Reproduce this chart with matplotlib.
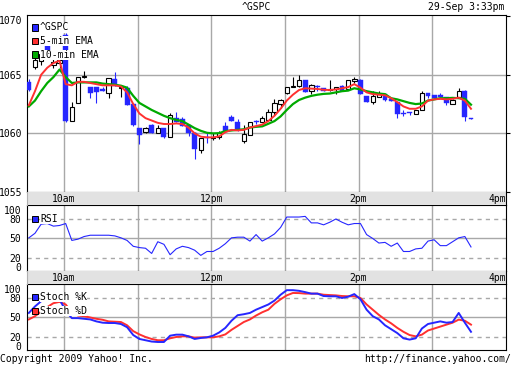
import numpy as np
import matplotlib
matplotlib.use('Agg')
import matplotlib.pyplot as plt
from matplotlib.patches import Rectangle

# 5-minute bars starting 9:30 (index 0)
opens = [1064.35, 1065.67, 1066.2, 1067.6, 1065.8, 1066.0, 1068.4, 1061.07, 1062.6, 1064.8,
         1064.0, 1064.0, 1063.8, 1063.43, 1064.63, 1063.85, 1063.9, 1062.47, 1060.5, 1060.14,
         1060.7, 1060.0, 1060.42, 1059.72, 1061.35, 1061.2, 1060.7, 1060.0, 1058.6, 1059.7,
         1059.6, 1059.72, 1060.62, 1061.4, 1060.93, 1059.38, 1059.9, 1061.05, 1061.0, 1061.18,
         1061.83, 1062.53, 1063.43, 1063.95, 1064.07, 1064.55, 1063.6, 1064.07, 1063.88, 1063.7,
         1063.8, 1064.07, 1063.79, 1064.44, 1064.55, 1063.23, 1062.67, 1063.09, 1063.37, 1062.9,
         1062.67, 1061.72, 1061.75, 1061.69, 1062.0, 1063.43, 1063.3, 1063.3, 1063.09, 1062.53,
         1063.09, 1063.65, 1061.3]
highs = [1064.6, 1066.46, 1067.0, 1067.9, 1066.4, 1066.5, 1068.6, 1062.7, 1064.85, 1065.3,
         1064.0, 1064.0, 1064.0, 1064.7, 1065.25, 1064.07, 1064.07, 1062.5, 1060.5, 1060.55,
         1060.8, 1060.7, 1060.42, 1061.7, 1061.83, 1061.4, 1060.7, 1060.1, 1059.6, 1060.05,
         1060.0, 1060.2, 1061.0, 1061.55, 1061.26, 1060.7, 1061.0, 1061.1, 1061.5, 1062.1,
         1062.95, 1062.9, 1064.0, 1064.83, 1065.0, 1064.55, 1064.2, 1064.1, 1063.9, 1064.55,
         1064.0, 1064.1, 1064.55, 1064.83, 1064.6, 1063.23, 1063.6, 1063.65, 1063.4, 1062.9,
         1062.7, 1061.97, 1061.83, 1062.0, 1063.65, 1063.43, 1063.3, 1063.43, 1063.1, 1062.9,
         1063.88, 1063.7, 1061.3]
lows = [1063.65, 1065.48, 1065.8, 1066.6, 1065.6, 1065.6, 1061.0, 1061.07, 1062.58, 1064.7,
        1063.0, 1062.6, 1063.6, 1063.0, 1064.07, 1063.1, 1062.4, 1060.6, 1059.1, 1060.03,
        1060.0, 1060.0, 1059.58, 1059.72, 1060.98, 1060.6, 1059.8, 1057.8, 1058.3, 1059.15,
        1059.44, 1059.5, 1060.2, 1061.07, 1060.2, 1059.2, 1059.9, 1060.8, 1061.0, 1061.1,
        1061.6, 1062.2, 1063.4, 1063.95, 1064.0, 1063.5, 1063.4, 1063.6, 1063.6, 1063.6,
        1063.37, 1063.6, 1063.79, 1064.3, 1063.37, 1062.67, 1062.53, 1063.09, 1062.8, 1062.8,
        1061.35, 1061.46, 1061.55, 1061.69, 1062.0, 1063.0, 1063.0, 1063.1, 1062.4, 1062.5,
        1063.0, 1061.07, 1061.2]
closes = [1063.7, 1066.24, 1066.8, 1067.0, 1066.1, 1066.3, 1061.05, 1062.25, 1064.8, 1064.85,
          1063.43, 1063.5, 1063.6, 1064.7, 1064.07, 1063.95, 1062.4, 1060.7, 1059.86, 1060.5,
          1060.0, 1060.42, 1059.72, 1061.55, 1060.98, 1060.6, 1060.0, 1058.65, 1059.58, 1059.6,
          1059.7, 1060.05, 1060.2, 1061.07, 1060.28, 1059.94, 1060.98, 1060.95, 1061.28, 1061.83,
          1062.58, 1062.87, 1063.99, 1064.07, 1064.55, 1063.5, 1064.16, 1063.95, 1063.65, 1063.75,
          1063.93, 1063.6, 1064.55, 1064.63, 1063.37, 1062.67, 1063.23, 1063.37, 1062.81, 1062.8,
          1061.69, 1061.66, 1061.7, 1062.0, 1063.43, 1063.23, 1063.0, 1063.1, 1062.58, 1062.87,
          1063.65, 1061.4, 1061.2]
ema5 = [1062.4, 1063.6, 1065.0, 1065.6, 1066.0, 1066.2, 1064.2, 1064.1, 1064.4, 1064.4,
        1064.3, 1064.2, 1064.1, 1064.1, 1064.1, 1064.0, 1063.5, 1062.5, 1061.7, 1061.3,
        1061.1, 1060.9, 1060.8, 1060.8, 1060.85, 1060.8, 1060.5, 1060.0, 1059.72, 1059.66,
        1059.66, 1059.75, 1060.1, 1060.3, 1060.25, 1060.3, 1060.5, 1060.62, 1060.75, 1061.05,
        1061.5, 1062.1, 1062.8, 1063.3, 1063.7, 1063.85, 1063.82, 1063.79, 1063.72, 1063.7,
        1063.75, 1063.85, 1063.95, 1064.2, 1063.9, 1063.5, 1063.35, 1063.3, 1063.25, 1063.0,
        1062.67, 1062.3, 1062.1, 1062.1, 1062.3, 1062.8, 1062.9, 1062.95, 1062.9, 1062.95,
        1063.05, 1062.8, 1062.1]
ema10 = [1062.3, 1062.8, 1063.6, 1064.3, 1064.8, 1065.45, 1064.8, 1064.3, 1064.35, 1064.35,
         1064.35, 1064.35, 1064.25, 1064.2, 1064.15, 1064.07, 1063.9, 1063.2, 1062.6, 1062.3,
         1062.0, 1061.75, 1061.5, 1061.3, 1061.15, 1061.05, 1060.75, 1060.45, 1060.22, 1060.05,
         1060.0, 1060.02, 1060.2, 1060.25, 1060.3, 1060.35, 1060.5, 1060.56, 1060.6, 1060.82,
         1061.05, 1061.45, 1062.0, 1062.5, 1062.85, 1063.05, 1063.2, 1063.3, 1063.37, 1063.4,
         1063.5, 1063.6, 1063.65, 1063.85, 1063.75, 1063.6, 1063.5, 1063.4, 1063.35, 1063.0,
         1062.9, 1062.75, 1062.6, 1062.5, 1062.55, 1062.8, 1062.9, 1063.0, 1063.0, 1063.03,
         1063.0, 1062.95, 1062.45]
rsi = [51, 58, 72, 73, 69, 70, 73, 47, 49, 53, 55, 55, 55, 55, 54, 51, 47, 38, 36, 35,
       27, 45, 41, 25, 34, 38, 36, 32, 24, 30, 30, 35, 42, 51, 52, 52, 46, 56, 46, 51,
       57, 67, 83, 83, 83, 84, 74, 74, 71, 75, 80, 75, 71, 73, 73, 56, 50, 43, 44, 38,
       43, 30, 30, 34, 35, 46, 48, 39, 39, 45, 51, 53, 37]
stoch_k = [57, 67, 75, 78, 80, 78, 60, 49, 49, 48, 47, 44, 42, 41.5, 41.5, 40, 35, 23, 17, 15,
           13, 12.3, 12.3, 22, 23.6, 23.6, 21, 17, 18.5, 19.5, 22, 27, 34, 45, 53.5, 55, 57, 62, 66, 70,
           76, 85, 92, 92, 91, 89, 86.7, 86.7, 83, 82.6, 82.6, 80, 82, 86, 78, 62, 52, 47, 38, 32,
           26, 18, 16, 18, 33, 40, 42, 44, 42, 43, 57, 42, 28]
stoch_d = [47, 52, 59, 66, 72, 74, 70, 58, 53, 52, 50, 48, 46.5, 44, 43.5, 43, 38, 29, 24, 20,
           17, 15, 15, 18, 20, 21, 21, 19, 19.5, 19.5, 19.5, 21, 24, 31, 37, 43, 47, 53, 58, 62,
           71, 78, 84, 87.7, 87.5, 86.7, 86.7, 86.7, 85, 84.5, 84, 83, 82.6, 82.6, 80, 70, 62, 54, 47, 41,
           34, 28, 23, 21, 23.6, 30, 33, 36, 39, 42, 46.7, 45, 39]

hour_marks = [30, 90, 150, 210, 270, 330, 390]   # minutes after 9:30
time_labels = ['10am', '12pm', '2pm', '4pm']
time_label_pos = [30, 150, 270, 390]

W, H = 512, 365
BLUE = '#2626ff'
RED = '#ff3030'
GREEN = '#00aa00'
GRID = '#a8a8a8'
FONT = 'DejaVu Sans Mono'
FS = 7.0

plt.rcParams['font.family'] = FONT

fig = plt.figure(figsize=(W / 100, H / 100), dpi=100)


def box(x0, y0, x1, y1):
    return [x0 / W, 1 - y1 / H, (x1 - x0) / W, (y1 - y0) / H]


minutes = np.arange(len(closes)) * 5 + 1.5
L, R = 27, 506

ax = fig.add_axes(box(L, 15, R, 192))
ax_rsi = fig.add_axes(box(L, 205, R, 271))
ax_st = fig.add_axes(box(L, 284, R, 350))
strip1 = fig.add_axes(box(L, 192, R, 205))
strip2 = fig.add_axes(box(L, 271, R, 284))

for a in [ax, ax_rsi, ax_st, strip1, strip2]:
    a.set_xlim(0, 390)
    a.set_xticks([])
    for s in a.spines.values():
        s.set_color('black')
        s.set_linewidth(0.8)

# strips with time labels
for s in [strip1, strip2]:
    s.set_facecolor('#e2e2e2')
    s.set_ylim(0, 1)
    s.set_yticks([])
    for p, lab in zip(time_label_pos, time_labels):
        s.text(p, 0.45, lab, ha='right' if p == 390 else 'center', va='center', fontsize=FS)
    s.spines['top'].set_visible(False)
    s.spines['bottom'].set_visible(False)
    s.spines['left'].set_color('#b0b0b0')

# main candle panel
for m in hour_marks[:-1]:
    ax.axvline(m, color=GRID, lw=1, zorder=0)
for lv in [1060, 1065]:
    ax.axhline(lv, color=GRID, lw=1, zorder=0)

o = np.array(opens)
c = np.array(closes)
up = c >= o
wick_col = np.where(up, 'black', BLUE)
ax.vlines(minutes, lows, highs, colors=wick_col, lw=0.8, zorder=2)
body_h = np.maximum(np.abs(c - o), 0.12)
body_b = np.minimum(o, c)
ax.bar(minutes[up], body_h[up], bottom=body_b[up], width=3.6, color='white',
       edgecolor='black', linewidth=0.8, zorder=3)
ax.bar(minutes[~up], body_h[~up], bottom=body_b[~up], width=4.0, color=BLUE,
       edgecolor=BLUE, linewidth=0.3, zorder=3)
ax.plot(minutes, ema10, color=GREEN, lw=1.6, zorder=4)
ax.plot(minutes, ema5, color=RED, lw=1.4, zorder=5)
ax.set_ylim(1055, 1070.1)
ax.set_yticks([1070, 1065, 1060, 1055])
ax.set_yticklabels(['1070', '1065', '1060', '1055'], fontsize=FS)
ax.tick_params(axis='y', left=False, right=True, direction='out', length=3, pad=0.5)
ax.get_yticklabels()[0].set_va('top')

# RSI and stochastic panels
for a in [ax_rsi, ax_st]:
    for m in hour_marks[:-1]:
        a.axvline(m, color=GRID, lw=1, zorder=0)
    a.axhline(50, color=GRID, lw=1, zorder=0)
    for lv in [20, 80]:
        a.axhline(lv, color=GRID, lw=1, ls=(0, (3, 3)), zorder=0)
    a.set_ylim(0, 101.5)
    a.set_yticks([100, 80, 50, 20, 0])
    a.set_yticklabels(['100', '80', '50', '20', '0'], fontsize=FS)
    a.tick_params(axis='y', left=False, length=0, pad=4)
    a.get_yticklabels()[0].set_va('top')
    a.get_yticklabels()[-1].set_va('baseline')

ax_rsi.plot(minutes, rsi, color=BLUE, lw=0.8)
ax_st.plot(minutes, stoch_d, color=RED, lw=1.4)
ax_st.plot(minutes, stoch_k, color=BLUE, lw=1.4)


# legends
def legend_entry(y, color, label):
    fig.add_artist(Rectangle((31.5 / W, 1 - (y + 3) / H), 6 / W, 6 / H, transform=fig.transFigure,
                             facecolor=color, edgecolor='black', lw=0.7, zorder=10))
    fig.text(40 / W, 1 - y / H, label, fontsize=FS, va='center', ha='left', zorder=9,
             bbox=dict(facecolor='white', edgecolor='none', pad=0))


legend_entry(27.5, BLUE, '^GSPC')
legend_entry(41, RED, '5-min EMA')
legend_entry(54.5, GREEN, '10-min EMA')
legend_entry(219, BLUE, 'RSI')
legend_entry(297, BLUE, 'Stoch %K')
legend_entry(310.5, RED, 'Stoch %D')

fig.text(256 / W, 1 - 7 / H, '^GSPC', ha='center', va='center', fontsize=FS)
fig.text(504 / W, 1 - 7 / H, '29-Sep 3:33pm', ha='right', va='center', fontsize=FS)
fig.text(0, 1 - 359 / H, 'Copyright 2009 Yahoo! Inc.', ha='left', va='center', fontsize=FS)
fig.text(511 / W, 1 - 359 / H, 'http://finance.yahoo.com/', ha='right', va='center', fontsize=FS)

fig.savefig('out.png', dpi=100)
